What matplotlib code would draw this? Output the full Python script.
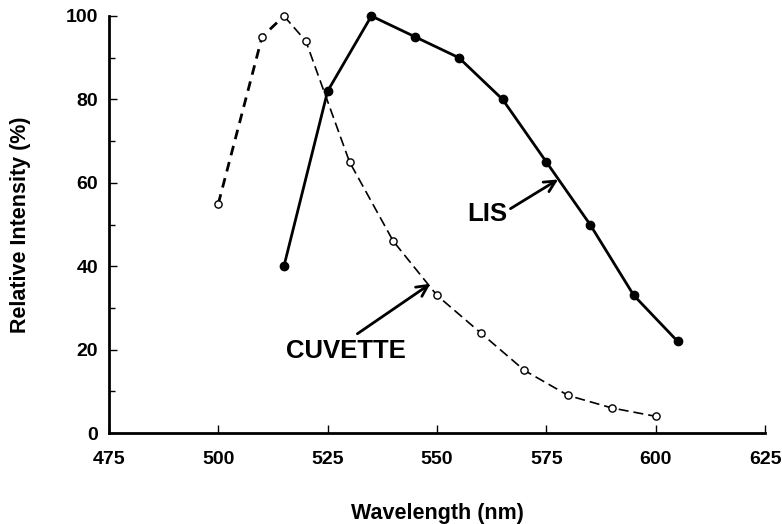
import matplotlib
matplotlib.use("Agg")
import matplotlib.pyplot as plt
from matplotlib.ticker import MultipleLocator

plt.rcParams['font.family'] = ['Liberation Sans', 'DejaVu Sans']
plt.rcParams['font.weight'] = 'bold'

cuv_x = [500, 510, 515, 520, 530, 540, 550, 560, 570, 580, 590, 600]
cuv_y = [55, 95, 100, 94, 65, 46, 33, 24, 15, 9, 6, 4]
lis_x = [515, 525, 535, 545, 555, 565, 575, 585, 595, 605]
lis_y = [40, 82, 100, 95, 90, 80, 65, 50, 33, 22]
x_ticks = [475, 500, 525, 550, 575, 600, 625]
y_ticks = [0, 20, 40, 60, 80, 100]

W, H = 782, 524
L, R, B, T = 109, 765, 433, 16
fig = plt.figure(figsize=(W / 100, H / 100), dpi=100)
ax = fig.add_axes([L / W, 1 - B / H, (R - L) / W, (B - T) / H])

# cuvette: thick dashes for rising part, thinner for the rest
ax.plot(cuv_x[:3], cuv_y[:3], color='black', lw=2.0, ls=(0, (3.5, 2.5)), zorder=2, clip_on=False)
ax.plot(cuv_x[2:], cuv_y[2:], color='black', lw=1.2, ls=(0, (6, 3)), zorder=2, clip_on=False)
ax.plot(cuv_x, cuv_y, ls='none', marker='o', ms=5.2, mfc='white', mec='black', mew=1.0,
        zorder=3, clip_on=False)

ax.plot(lis_x, lis_y, color='black', lw=2.0, marker='o', ms=6, mfc='black', mec='black',
        zorder=4, clip_on=False)

arrow = dict(arrowstyle='->', lw=2.0, color='black', mutation_scale=20, shrinkA=0, shrinkB=0)
ax.text(561.5, 52.6, 'LIS', ha='center', va='center', fontsize=18.5, fontweight='bold')
ax.annotate('', xy=(577.7, 60.8), xytext=(566.8, 53.8), arrowprops=arrow)
ax.text(529.1, 19.6, 'CUVETTE', ha='center', va='center', fontsize=18.5, fontweight='bold')
ax.annotate('', xy=(548.5, 35.8), xytext=(531.8, 23.8), arrowprops=arrow)

ax.set_xlim(475, 625)
ax.set_ylim(0, 100)
ax.set_xticks(x_ticks)
ax.set_yticks(y_ticks)
ax.yaxis.set_minor_locator(MultipleLocator(10))
ax.tick_params(axis='both', which='major', direction='in', length=6, width=1,
               labelsize=14, pad=8)
ax.tick_params(axis='y', which='minor', direction='in', length=4, width=1)
ax.tick_params(axis='x', pad=13)
for lab in ax.get_xticklabels() + ax.get_yticklabels():
    lab.set_fontweight('bold')

ax.spines['top'].set_visible(False)
ax.spines['right'].set_visible(False)
ax.spines['left'].set_linewidth(2)
ax.spines['bottom'].set_linewidth(2)

ax.set_xlabel('Wavelength (nm)', fontsize=15.5, fontweight='bold', va='baseline')
ax.xaxis.set_label_coords(0.5, -(519 - B) / (B - T))
ax.set_ylabel('Relative Intensity (%)', fontsize=15.5, fontweight='bold', va='center')
ax.yaxis.set_label_coords(-(L - 20) / (R - L), 0.5)

fig.savefig('out.png', dpi=100)
